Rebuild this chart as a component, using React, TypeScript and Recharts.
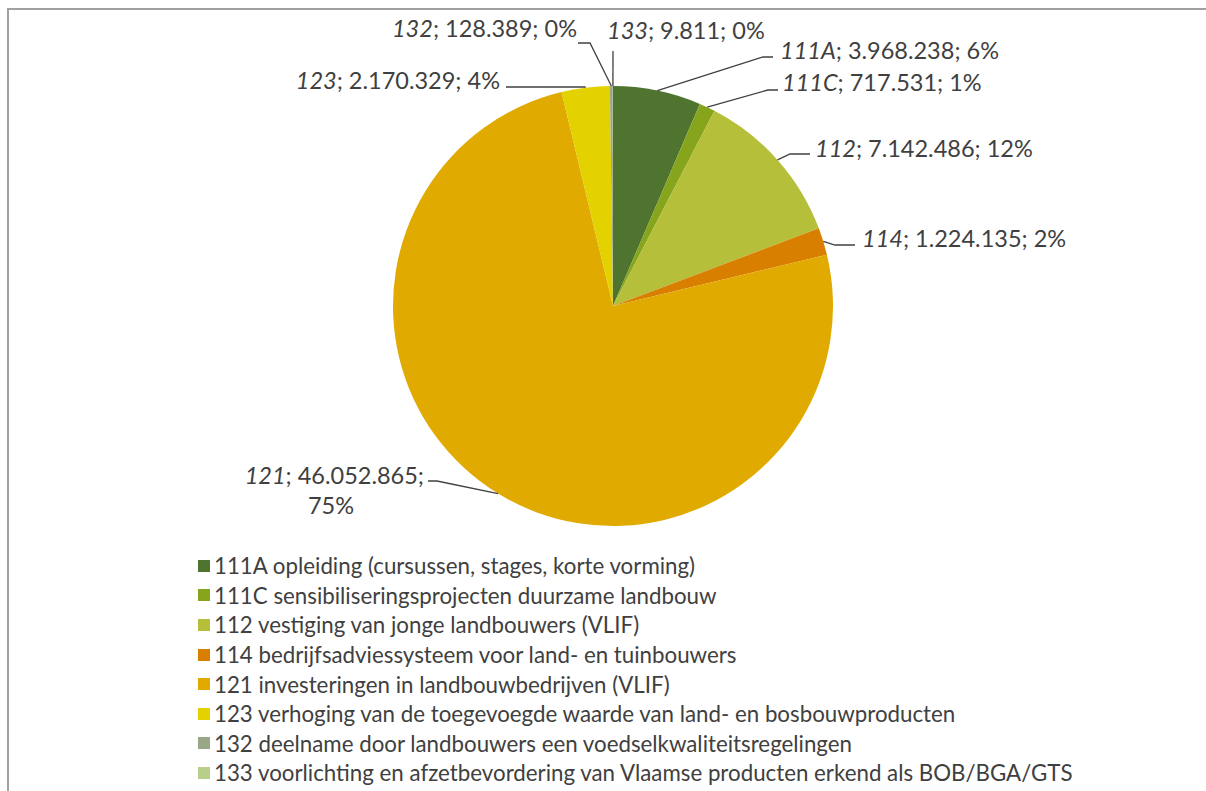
import React from 'react';
import { PieChart, Pie, Cell, Legend } from 'recharts';

const categories = ['111A', '111C', '112', '114', '121', '123', '132', '133'];
const descriptions = [
  'opleiding (cursussen, stages, korte vorming)',
  'sensibiliseringsprojecten duurzame landbouw',
  'vestiging van jonge landbouwers (VLIF)',
  'bedrijfsadviessysteem voor land- en tuinbouwers',
  'investeringen in landbouwbedrijven (VLIF)',
  'verhoging van de toegevoegde waarde van land- en bosbouwproducten',
  'deelname door landbouwers een voedselkwaliteitsregelingen',
  'voorlichting en afzetbevordering van Vlaamse producten erkend als BOB/BGA/GTS',
];
const values = [3968238, 717531, 7142486, 1224135, 46052865, 2170329, 128389, 9811];
const colors = ['#4E7430', '#86A51C', '#B5BF3A', '#D97F00', '#E0AA00', '#E3D100', '#97A788', '#B9CE8A'];

// label placement: text anchor point + leader elbow (bx,by) and end x
const labelLayout = [
  { tx: 780, ty: 50, anchor: 'start', bx: 763, by: 57, ex: 773 },
  { tx: 782, ty: 82, anchor: 'start', bx: 768, by: 90, ex: 778 },
  { tx: 815, ty: 148, anchor: 'start', bx: 790, by: 154, ex: 810 },
  { tx: 862, ty: 238, anchor: 'start', bx: 835, by: 245, ex: 855 },
  { tx: 424, ty: 475, anchor: 'end', bx: 437, by: 481, ex: 428 },
  { tx: 500, ty: 80, anchor: 'end', bx: 585, by: 87, ex: 506 },
  { tx: 577, ty: 28, anchor: 'end', bx: 590, by: 43, ex: 578 },
  { tx: 607, ty: 30, anchor: 'start', bx: 613, by: 51, ex: 613 },
];

const data = categories.map((c, i) => ({
  name: `${c} ${descriptions[i]}`,
  code: c,
  value: values[i],
}));

const fmt = (n: number) => String(n).replace(/\B(?=(\d{3})+(?!\d))/g, '.');

const RAD = Math.PI / 180;
const FONT = 'Lato, "Open Sans", sans-serif';
const LABEL_SIZE = 23.5;

const renderLabel = (props: any) => {
  const { cx, cy, midAngle, outerRadius, index, percent } = props;
  const l = labelLayout[index];
  const px = cx + outerRadius * Math.cos(-midAngle * RAD);
  const py = cy + outerRadius * Math.sin(-midAngle * RAD);
  const pct = `${Math.round(percent * 100)}%`;
  const code = categories[index];
  const val = fmt(values[index]);
  const line = (
    <polyline
      points={`${px},${py} ${l.bx},${l.by} ${l.ex},${l.by}`}
      fill="none"
      stroke="#404040"
      strokeWidth={1.3}
    />
  );
  if (code === '121') {
    return (
      <g>
        {line}
        <text x={l.tx} y={l.ty} textAnchor="end" dominantBaseline="central" fill="#404040" fontSize={LABEL_SIZE} fontFamily={FONT}>
          <tspan fontStyle="italic">{code}</tspan>
          <tspan>{`; ${val};`}</tspan>
        </text>
        <text x={331} y={505} textAnchor="middle" dominantBaseline="central" fill="#404040" fontSize={LABEL_SIZE} fontFamily={FONT}>
          {pct}
        </text>
      </g>
    );
  }
  return (
    <g>
      {line}
      <text x={l.tx} y={l.ty} textAnchor={l.anchor} dominantBaseline="central" fill="#404040" fontSize={LABEL_SIZE} fontFamily={FONT}>
        <tspan fontStyle="italic">{code}</tspan>
        <tspan>{`; ${val}; ${pct}`}</tspan>
      </text>
    </g>
  );
};

const renderLegend = (props: any) => {
  const { payload } = props;
  return (
    <div style={{ fontFamily: FONT, fontSize: 22.3, color: '#404040' }}>
      {payload.map((entry: any, i: number) => (
        <div key={i} style={{ display: 'flex', alignItems: 'center', height: 29.6, whiteSpace: 'nowrap' }}>
          <span style={{ display: 'inline-block', width: 12, height: 12, background: entry.color, marginRight: 4 }} />
          <span>{entry.value}</span>
        </div>
      ))}
    </div>
  );
};

export default function App() {
  return (
    <div style={{ position: 'absolute', left: 0, top: 0, width: 1206, height: 791, overflow: 'hidden', background: '#fff' }}>
      <div
        style={{
          position: 'absolute',
          left: 7,
          top: 8,
          width: 1400,
          height: 1000,
          borderTop: '2px solid #a0a0a0',
          borderLeft: '2px solid #a0a0a0',
        }}
      />
      <div style={{ position: 'absolute', left: 0, top: 0 }}>
        <PieChart width={1206} height={791} margin={{ top: 0, right: 0, bottom: 0, left: 0 }}>
          <Pie
            data={data}
            dataKey="value"
            nameKey="name"
            cx={613}
            cy={306}
            outerRadius={220}
            startAngle={90}
            endAngle={-270}
            stroke="none"
            label={renderLabel}
            labelLine={false}
            isAnimationActive={false}
          >
            {data.map((d, i) => (
              <Cell key={d.code} fill={colors[i]} />
            ))}
          </Pie>
          <Legend
            layout="horizontal"
            verticalAlign="bottom"
            align="left"
            content={renderLegend}
            wrapperStyle={{ left: 198, top: 551, bottom: 'auto', width: 900 }}
          />
        </PieChart>
      </div>
    </div>
  );
}
